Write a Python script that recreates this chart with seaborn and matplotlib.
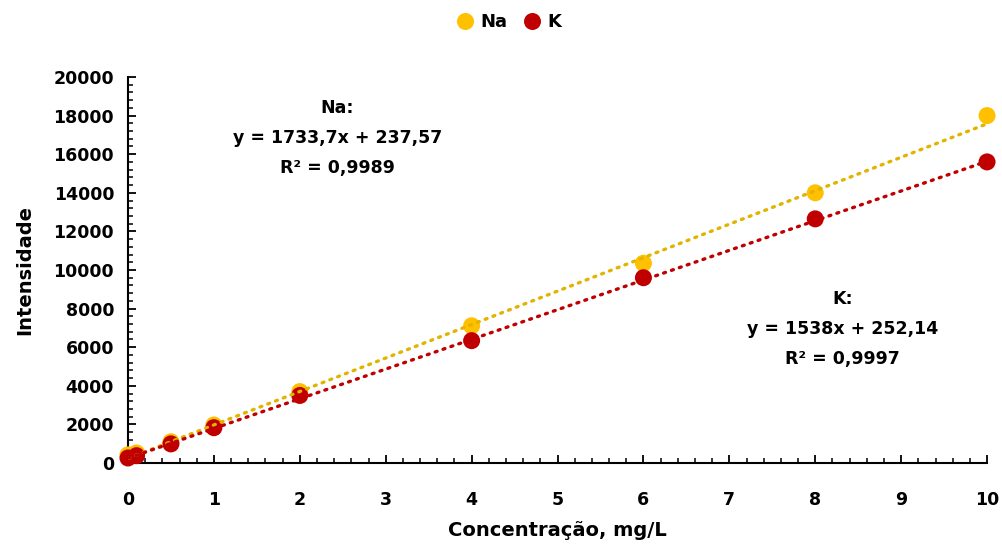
import matplotlib
matplotlib.use("Agg")
import matplotlib.pyplot as plt
from matplotlib.ticker import MultipleLocator
import seaborn as sns
import pandas as pd
import numpy as np

# concentrations (mg/L) and measured intensities
conc = [0, 0.1, 0.5, 1, 2, 4, 6, 8, 10]
na_int = [420, 520, 1100, 1970, 3700, 7110, 10350, 14000, 18000]
k_int = [260, 380, 990, 1830, 3500, 6340, 9600, 12650, 15600]

# trendline coefficients as reported on the chart
na_fit = [1733.7, 237.57]
k_fit = [1538, 252.14]
na_label = "Na:\ny = 1733,7x + 237,57\nR² = 0,9989"
k_label = "K:\ny = 1538x + 252,14\nR² = 0,9997"

na_color = "#FFC000"
k_color = "#C00000"
na_line = "#E0B400"

df = pd.DataFrame({
    "Concentração": conc * 2,
    "Intensidade": na_int + k_int,
    "Elemento": ["Na"] * len(conc) + ["K"] * len(conc),
})

sns.set_style("white")
plt.rcParams["font.family"] = ["DejaVu Sans"]
plt.rcParams["font.weight"] = "bold"
plt.rcParams["text.color"] = "black"
plt.rcParams["axes.labelcolor"] = "black"
plt.rcParams["xtick.color"] = "black"
plt.rcParams["ytick.color"] = "black"

fig = plt.figure(figsize=(10.03, 5.46), dpi=100)
ax = fig.add_axes([0.1276, 0.152, 0.8565, 0.707])

sns.scatterplot(data=df, x="Concentração", y="Intensidade", hue="Elemento",
                palette={"Na": na_color, "K": k_color}, s=150, edgecolor="none",
                ax=ax, zorder=3, legend=True)

xs = np.array([0, 10])
ax.plot(xs, na_fit[0] * xs + na_fit[1], color=na_line, lw=2.4,
        linestyle=(0, (0.6, 1.9)), dash_capstyle="round", zorder=4)
ax.plot(xs, k_fit[0] * xs + k_fit[1], color=k_color, lw=2.4,
        linestyle=(0, (0.6, 1.9)), dash_capstyle="round", zorder=4)

ax.set_xlim(0, 10)
ax.set_ylim(0, 20000)
ax.xaxis.set_major_locator(MultipleLocator(1))
ax.xaxis.set_minor_locator(MultipleLocator(0.2))
ax.yaxis.set_major_locator(MultipleLocator(2000))
ax.yaxis.set_minor_locator(MultipleLocator(400))
ax.tick_params(which="both", bottom=True, left=True, colors="black")
ax.tick_params(which="major", direction="in", length=6, width=1.3, labelsize=12.5)
ax.tick_params(which="minor", direction="in", length=3.5, width=1.1)
ax.tick_params(axis="x", which="major", pad=20)
ax.tick_params(axis="y", which="major", pad=10)
for lab in ax.get_xticklabels() + ax.get_yticklabels():
    lab.set_fontweight("bold")

for side in ["top", "right"]:
    ax.spines[side].set_visible(False)
for side in ["left", "bottom"]:
    ax.spines[side].set_color("black")
    ax.spines[side].set_linewidth(1.5)
for c in ax.collections:
    c.set_clip_on(False)

ax.set_xlabel("Concentração, mg/L", fontsize=14, fontweight="bold", labelpad=9)
ax.set_ylabel("Intensidade", fontsize=14, fontweight="bold", labelpad=14)

ax.text(2.44, 16840, na_label, ha="center", va="center", fontsize=12.5,
        fontweight="bold", linespacing=1.85)
ax.text(8.32, 6940, k_label, ha="center", va="center", fontsize=12.5,
        fontweight="bold", linespacing=1.85)

handles, labels = ax.get_legend_handles_labels()
ax.legend(handles, labels, loc="center", bbox_to_anchor=(0.505, 0.96),
          bbox_transform=fig.transFigure, ncol=2, frameon=False,
          fontsize=13, handletextpad=0.1, columnspacing=0.6, handlelength=1.5,
          markerscale=1.0)
for t in ax.get_legend().get_texts():
    t.set_fontweight("bold")

fig.savefig("out.png", dpi=100)
